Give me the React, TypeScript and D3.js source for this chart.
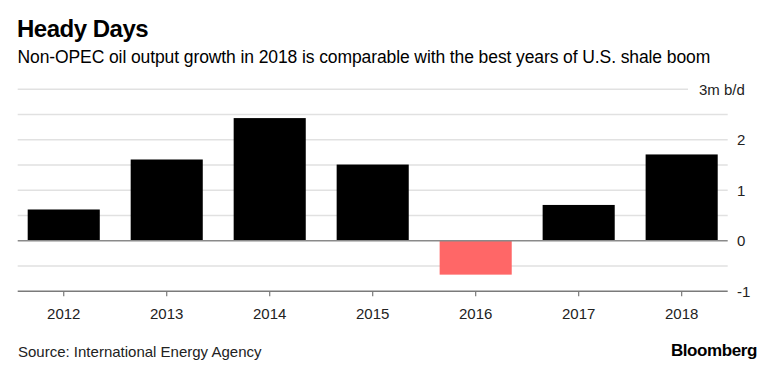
import React from 'react'
import * as d3 from 'd3'

// Non-OPEC oil output growth, million barrels a day
const years = ['2012', '2013', '2014', '2015', '2016', '2017', '2018']
const growth = [0.62, 1.61, 2.43, 1.51, -0.67, 0.71, 1.71]
const gridValues = [-1, -0.5, 0, 0.5, 1, 1.5, 2, 2.5, 3]
const tickLabels = [
  { v: 3, label: '3m b/d' },
  { v: 2, label: '2' },
  { v: 1, label: '1' },
  { v: 0, label: '0' },
  { v: -1, label: '-1' },
]

const W = 763
const H = 367
const FONT = '"Liberation Sans", Arial, Helvetica, sans-serif'

export default function App() {
  const left = 17.7
  const right = 727.7
  const top = 89.3
  const bottom = 291.3

  const x = d3.scaleBand<string>()
    .domain(years)
    .range([left, right])
    .paddingInner(0.3)
    .paddingOuter(0.097)

  const y = d3.scaleLinear().domain([-1, 3]).range([bottom, top])

  return (
    <div style={{ position: 'absolute', left: 0, top: 0 }}>
      <svg width={W} height={H} style={{ display: 'block', background: '#fff' }} fontFamily={FONT}>
        {/* Titles */}
        <text x={17} y={36.5} fontSize={24} fontWeight="bold" fill="#000" letterSpacing={-0.5}>
          Heady Days
        </text>
        <text x={17.5} y={62.5} fontSize={17.5} fill="#000" letterSpacing={-0.1}>
          Non-OPEC oil output growth in 2018 is comparable with the best years of U.S. shale boom
        </text>

        {/* Gridlines */}
        {gridValues.filter(v => v !== 0 && v !== -1).map(v => (
          <line
            key={v}
            x1={left}
            x2={v === 3 ? 688 : right}
            y1={y(v)}
            y2={y(v)}
            stroke="#e1e1e1"
            strokeWidth={1.5}
          />
        ))}

        {/* Bars */}
        {years.map((yr, i) => {
          const v = growth[i]
          return (
            <rect
              key={yr}
              x={x(yr)}
              y={v >= 0 ? y(v) : y(0)}
              width={x.bandwidth()}
              height={Math.abs(y(v) - y(0))}
              fill={v >= 0 ? '#000' : '#ff6767'}
            />
          )
        })}

        {/* Zero line */}
        <line x1={left} x2={right} y1={y(0)} y2={y(0)} stroke="#8a8a8a" strokeWidth={1.5} />

        {/* Bottom axis */}
        <line x1={left} x2={right} y1={y(-1)} y2={y(-1)} stroke="#7a7a7a" strokeWidth={1.5} />
        {years.map(yr => {
          const cx = (x(yr) ?? 0) + x.bandwidth() / 2
          return (
            <g key={yr}>
              <line x1={cx} x2={cx} y1={y(-1)} y2={y(-1) + 5} stroke="#7a7a7a" strokeWidth={1.2} />
              <text x={cx} y={318.5} fontSize={15} textAnchor="middle" fill="#222">
                {yr}
              </text>
            </g>
          )
        })}

        {/* Y labels */}
        {tickLabels.map(t => (
          <text
            key={t.v}
            x={t.v === 3 ? 699 : 737}
            y={y(t.v)}
            dy="0.35em"
            fontSize={15}
            fill="#222"
          >
            {t.label}
          </text>
        ))}

        {/* Footer */}
        <text x={18} y={357.3} fontSize={15} fill="#222">
          Source: International Energy Agency
        </text>
        <text x={757} y={355.5} fontSize={17} fontWeight="bold" textAnchor="end" fill="#000" letterSpacing={-0.4}>
          Bloomberg
        </text>
      </svg>
    </div>
  )
}
